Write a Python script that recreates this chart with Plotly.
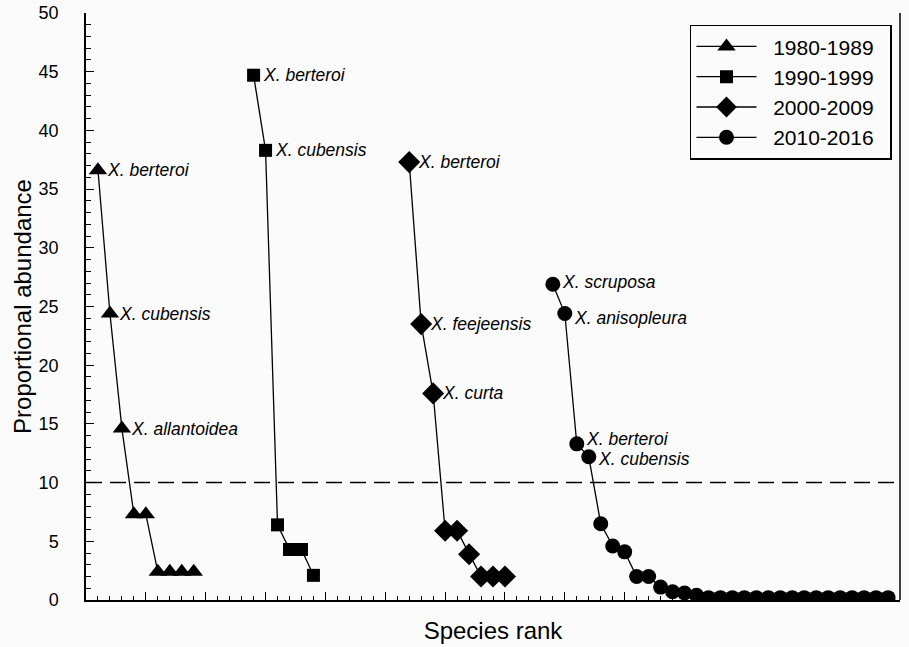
import plotly.graph_objects as go

# ---- data ----
periods = ["1980-1989", "1990-1999", "2000-2009", "2010-2016"]

rank_1980 = [1, 2, 3, 4, 5, 6, 7, 8, 9]
abund_1980 = [36.6, 24.4, 14.6, 7.3, 7.3, 2.4, 2.4, 2.4, 2.4]
labels_1980 = ["X. berteroi", "X. cubensis", "X. allantoidea"]

rank_1990 = [14, 15, 16, 17, 18, 19]
abund_1990 = [44.7, 38.3, 6.4, 4.3, 4.3, 2.1]
labels_1990 = ["X. berteroi", "X. cubensis"]

rank_2000 = [27, 28, 29, 30, 31, 32, 33, 34, 35]
abund_2000 = [37.3, 23.5, 17.6, 5.9, 5.9, 3.9, 2.0, 2.0, 2.0]
labels_2000 = ["X. berteroi", "X. feejeensis", "X. curta"]

rank_2010 = [39, 40, 41, 42, 43, 44, 45, 46, 47, 48, 49, 50, 51, 52, 53, 54, 55,
             56, 57, 58, 59, 60, 61, 62, 63, 64, 65, 66, 67]
abund_2010 = [26.9, 24.4, 13.3, 12.2, 6.5, 4.6, 4.1, 2.0, 2.0, 1.1, 0.7, 0.6, 0.4,
              0.2, 0.2, 0.2, 0.2, 0.2, 0.2, 0.2, 0.2, 0.2, 0.2, 0.2, 0.2, 0.2, 0.2, 0.2, 0.2]
labels_2010 = ["X. scruposa", "X. anisopleura", "X. berteroi", "X. cubensis"]

threshold = 10

series = [
    (periods[0], rank_1980, abund_1980, labels_1980, "triangle-up", 16),
    (periods[1], rank_1990, abund_1990, labels_1990, "square", 13),
    (periods[2], rank_2000, abund_2000, labels_2000, "diamond", 17),
    (periods[3], rank_2010, abund_2010, labels_2010, "circle", 15),
]

FONT = "Liberation Sans, Arial, sans-serif"
NB = "\u00a0"
fig = go.Figure()

# label vertical nudges (px) to mimic reference placement
label_yshift = {
    "2010-2016": [2, -4, 5, -2],
}

for name, xr, ya, labs, sym, size in series:
    fig.add_trace(go.Scatter(
        x=xr, y=ya, name=NB * 2 + name + NB * 2, mode="lines+markers",
        line=dict(color="black", width=1.3),
        marker=dict(symbol=sym, size=size, color="black"),
    ))
    shifts = label_yshift.get(name, [0] * len(labs))
    for i, lab in enumerate(labs):
        fig.add_annotation(
            x=xr[i], y=ya[i], text="<i>" + lab + "</i>",
            xanchor="left", yanchor="middle", xshift=7, yshift=shifts[i],
            showarrow=False, font=dict(family=FONT, size=17.5, color="black"),
        )

fig.add_shape(type="line", xref="paper", x0=0, x1=1, y0=threshold, y1=threshold,
              line=dict(color="black", width=1.5, dash="16px,8px"))
# right frame line
fig.add_shape(type="line", xref="paper", yref="paper", x0=1, x1=1, y0=0, y1=1,
              line=dict(color="black", width=1.5))

fig.update_layout(
    width=909, height=647,
    margin=dict(l=86, r=9, t=13, b=47),
    paper_bgcolor="#fbfbfb", plot_bgcolor="#fbfbfb",
    font=dict(family=FONT, color="black"),
    showlegend=True,
    legend=dict(
        x=0.742, y=0.98, xanchor="left", yanchor="top",
        bordercolor="black", borderwidth=1.5, bgcolor="#fbfbfb",
        font=dict(family=FONT, size=21), itemwidth=60,
        tracegroupgap=0,
    ),
    xaxis=dict(
        range=[0, 68], tickmode="linear", tick0=0, dtick=5, automargin=False,
        ticks="inside", ticklen=8, tickwidth=1.3, tickcolor="black",
        showticklabels=False, showgrid=False, zeroline=False,
        showline=True, linecolor="black", linewidth=1.5,
        minor=dict(dtick=1, ticks="inside", ticklen=4, tickwidth=1.2, tickcolor="black", showgrid=False),
        title=dict(text="Species rank", font=dict(family=FONT, size=24), standoff=21),
    ),
    yaxis=dict(
        range=[0, 50], tickmode="linear", tick0=0, dtick=5, automargin=False,
        ticks="inside", ticklen=8, tickwidth=1.3, tickcolor="black",
        tickfont=dict(family=FONT, size=18), ticklabelstandoff=22,
        ticklabeloverflow="allow",
        showgrid=False, zeroline=False,
        showline=True, linecolor="black", linewidth=1.5,
        minor=dict(dtick=1, ticks="inside", ticklen=5, tickwidth=1.2, tickcolor="black", showgrid=False),
        title=dict(text="Proportional abundance", font=dict(family=FONT, size=24), standoff=0),
    ),
)

# remove the browser's default 8px body margin so the figure fills the window exactly
fig.write_html("out.html", config={"displayModeBar": False},
               post_script="document.body.style.margin='0';")
